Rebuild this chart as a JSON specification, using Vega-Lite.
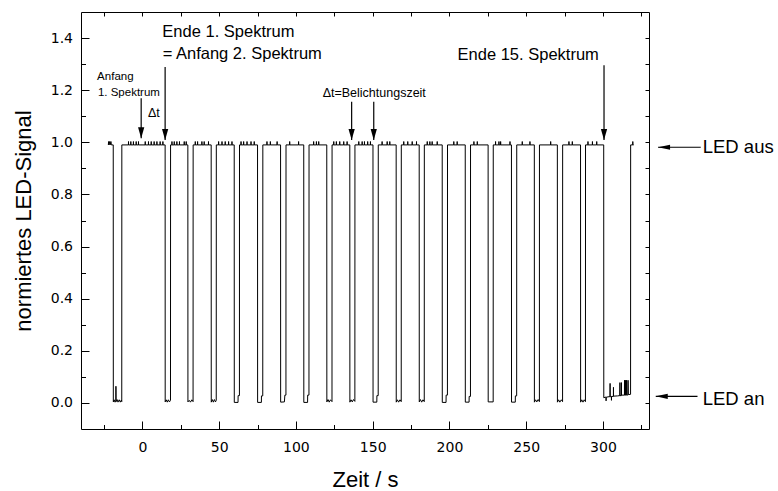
{
"$schema": "https://vega.github.io/schema/vega-lite/v6.json",
"width": 568, "height": 417,
"autosize": "none",
"padding": {"left": 81, "top": 12, "right": 129, "bottom": 62},
"background": "white",
"config": {
  "view": {"stroke": "black", "strokeWidth": 1},
  "axis": {"domain": false, "grid": false, "tickColor": "black", "tickWidth": 1, "labelColor": "black", "titleColor": "black", "labelFont": "DejaVu Sans", "titleFont": "Liberation Sans", "titleFontWeight": "normal"},
  "text": {"font": "Liberation Sans", "color": "black"}
},
"datasets": {
  "signal": [
{"t":-22.2,"v":0.99},{"t":-22.0,"v":1.003},{"t":-21.8,"v":0.99},{"t":-21.3,"v":1.003},{"t":-21.0,"v":0.99},{"t":-20.5,"v":1.003},{"t":-20.2,"v":0.99},{"t":-19.0,"v":0.99},
{"t":-18.95,"v":0.004},{"t":-18.4,"v":0.012},{"t":-17.9,"v":0.003},{"t":-17.3,"v":0.006},{"t":-17.25,"v":0.064},{"t":-17.15,"v":0.005},{"t":-16.5,"v":0.013},{"t":-15.9,"v":0.003},{"t":-15.1,"v":0.012},{"t":-14.4,"v":0.003},{"t":-13.7,"v":0.011},{"t":-13.45,"v":0.005},
{"t":-13.4,"v":0.99},
{"t":-9.1,"v":0.99},{"t":-9.05,"v":1.003},{"t":-9.0,"v":0.99},
{"t":-7.6,"v":0.99},{"t":-7.55,"v":1.003},{"t":-7.5,"v":0.99},
{"t":-5.9,"v":0.99},{"t":-5.85,"v":1.003},{"t":-5.8,"v":0.99},
{"t":-4.1,"v":0.99},{"t":-4.05,"v":1.003},{"t":-4.0,"v":0.99},
{"t":-2.6,"v":0.99},{"t":-2.55,"v":1.003},{"t":-2.5,"v":0.99},
{"t":1.8,"v":0.99},{"t":1.85,"v":1.003},{"t":1.9,"v":0.99},
{"t":3.9,"v":0.99},{"t":3.95,"v":1.003},{"t":4.0,"v":0.99},
{"t":5.7,"v":0.99},{"t":5.75,"v":1.003},{"t":5.8,"v":0.99},
{"t":7.6,"v":0.99},{"t":7.65,"v":1.003},{"t":7.7,"v":0.99},
{"t":9.4,"v":0.99},{"t":9.45,"v":1.003},{"t":9.5,"v":0.99},
{"t":11.5,"v":0.99},{"t":11.55,"v":1.003},{"t":11.6,"v":0.99},
{"t":13.3,"v":0.99},{"t":13.35,"v":1.003},{"t":13.4,"v":0.99},
{"t":14.8,"v":0.99},{"t":14.85,"v":0.004},{"t":15.5,"v":0.012},{"t":16.2,"v":0.003},{"t":16.9,"v":0.012},{"t":17.6,"v":0.004},{"t":18.3,"v":0.01},{"t":18.35,"v":0.99},
{"t":19.2,"v":0.99},{"t":19.25,"v":1.003},{"t":19.3,"v":0.99},
{"t":20.7,"v":0.99},{"t":20.75,"v":1.003},{"t":20.8,"v":0.99},
{"t":22.4,"v":0.99},{"t":22.45,"v":1.003},{"t":22.5,"v":0.99},
{"t":24.1,"v":0.99},{"t":24.15,"v":1.003},{"t":24.2,"v":0.99},
{"t":27.2,"v":0.99},{"t":27.25,"v":1.003},{"t":27.3,"v":0.99},
{"t":28.5,"v":0.99},{"t":28.55,"v":1.003},{"t":28.6,"v":0.99},
{"t":29.6,"v":0.99},{"t":29.65,"v":0.004},{"t":30.5,"v":0.01},{"t":31.3,"v":0.003},{"t":32.2,"v":0.012},{"t":33.0,"v":0.005},{"t":33.05,"v":0.99},
{"t":34.4,"v":0.99},{"t":34.45,"v":1.003},{"t":34.5,"v":0.99},
{"t":35.9,"v":0.99},{"t":35.95,"v":1.003},{"t":36.0,"v":0.99},
{"t":38.7,"v":0.99},{"t":38.75,"v":1.003},{"t":38.8,"v":0.99},
{"t":40.2,"v":0.99},{"t":40.25,"v":1.003},{"t":40.3,"v":0.99},
{"t":43.0,"v":0.99},{"t":43.05,"v":1.003},{"t":43.1,"v":0.99},
{"t":44.8,"v":0.99},{"t":44.85,"v":0.003},{"t":45.5,"v":0.013},{"t":46.2,"v":0.003},{"t":46.9,"v":0.013},{"t":47.6,"v":0.004},{"t":48.1,"v":0.01},{"t":48.15,"v":0.99},
{"t":49.6,"v":0.99},{"t":49.65,"v":1.003},{"t":49.7,"v":0.99},
{"t":51.8,"v":0.99},{"t":51.85,"v":1.003},{"t":51.9,"v":0.99},
{"t":53.9,"v":0.99},{"t":53.95,"v":1.003},{"t":54.0,"v":0.99},
{"t":56.1,"v":0.99},{"t":56.15,"v":1.003},{"t":56.2,"v":0.99},
{"t":58.3,"v":0.99},{"t":58.35,"v":1.003},{"t":58.4,"v":0.99},
{"t":59.8,"v":0.99},{"t":59.85,"v":0.002},{"t":62.3,"v":0.002},{"t":62.35,"v":0.028},{"t":63.2,"v":0.028},{"t":63.25,"v":0.99},
{"t":64.2,"v":0.99},{"t":64.25,"v":1.003},{"t":64.3,"v":0.99},
{"t":65.9,"v":0.99},{"t":65.95,"v":1.003},{"t":66.0,"v":0.99},
{"t":68.1,"v":0.99},{"t":68.15,"v":1.003},{"t":68.2,"v":0.99},
{"t":70.7,"v":0.99},{"t":70.75,"v":1.003},{"t":70.8,"v":0.99},
{"t":72.8,"v":0.99},{"t":72.85,"v":1.003},{"t":72.9,"v":0.99},
{"t":75.0,"v":0.99},{"t":75.05,"v":0.002},{"t":77.5,"v":0.002},{"t":77.55,"v":0.027},{"t":78.4,"v":0.027},{"t":78.45,"v":0.99},
{"t":81.1,"v":0.99},{"t":81.15,"v":1.003},{"t":81.2,"v":0.99},
{"t":83.3,"v":0.99},{"t":83.35,"v":1.003},{"t":83.4,"v":0.99},
{"t":87.7,"v":0.99},{"t":87.75,"v":1.003},{"t":87.8,"v":0.99},
{"t":90.0,"v":0.99},{"t":90.05,"v":0.003},{"t":92.5,"v":0.004},{"t":92.8,"v":0.03},{"t":93.5,"v":0.03},{"t":93.55,"v":0.99},
{"t":95.9,"v":0.99},{"t":95.95,"v":1.003},{"t":96.0,"v":0.99},
{"t":101.7,"v":0.99},{"t":101.75,"v":1.003},{"t":101.8,"v":0.99},
{"t":105.1,"v":0.99},{"t":105.15,"v":0.002},{"t":107.6,"v":0.002},{"t":107.65,"v":0.03},{"t":108.5,"v":0.03},{"t":108.55,"v":0.99},
{"t":111.5,"v":0.99},{"t":111.55,"v":1.003},{"t":111.6,"v":0.99},
{"t":113.3,"v":0.99},{"t":113.35,"v":1.003},{"t":113.4,"v":0.99},
{"t":114.8,"v":0.99},{"t":114.85,"v":1.003},{"t":114.9,"v":0.99},
{"t":120.1,"v":0.99},{"t":120.15,"v":0.004},{"t":120.9,"v":0.013},{"t":121.7,"v":0.003},{"t":122.5,"v":0.012},{"t":123.5,"v":0.005},{"t":123.55,"v":0.99},
{"t":124.6,"v":0.99},{"t":124.65,"v":1.003},{"t":124.7,"v":0.99},
{"t":126.3,"v":0.99},{"t":126.35,"v":1.003},{"t":126.4,"v":0.99},
{"t":128.5,"v":0.99},{"t":128.55,"v":1.003},{"t":128.6,"v":0.99},
{"t":131.1,"v":0.99},{"t":131.15,"v":1.003},{"t":131.2,"v":0.99},
{"t":133.3,"v":0.99},{"t":133.35,"v":1.003},{"t":133.4,"v":0.99},
{"t":135.1,"v":0.99},{"t":135.15,"v":0.003},{"t":135.9,"v":0.012},{"t":136.7,"v":0.004},{"t":137.5,"v":0.013},{"t":138.4,"v":0.006},{"t":138.45,"v":0.99},
{"t":140.9,"v":0.99},{"t":140.95,"v":1.003},{"t":141.0,"v":0.99},
{"t":143.1,"v":0.99},{"t":143.15,"v":1.003},{"t":143.2,"v":0.99},
{"t":144.6,"v":0.99},{"t":144.65,"v":1.003},{"t":144.7,"v":0.99},
{"t":146.7,"v":0.99},{"t":146.75,"v":1.003},{"t":146.8,"v":0.99},
{"t":148.5,"v":0.99},{"t":148.55,"v":1.003},{"t":148.6,"v":0.99},
{"t":150.2,"v":0.99},{"t":150.25,"v":0.003},{"t":152.7,"v":0.003},{"t":152.75,"v":0.028},{"t":153.6,"v":0.028},{"t":153.65,"v":0.99},
{"t":156.1,"v":0.99},{"t":156.15,"v":1.003},{"t":156.2,"v":0.99},
{"t":159.4,"v":0.99},{"t":159.45,"v":1.003},{"t":159.5,"v":0.99},
{"t":161.1,"v":0.99},{"t":161.15,"v":1.003},{"t":161.2,"v":0.99},
{"t":165.3,"v":0.99},{"t":165.35,"v":0.003},{"t":166.1,"v":0.012},{"t":166.9,"v":0.003},{"t":167.8,"v":0.012},{"t":168.6,"v":0.005},{"t":168.65,"v":0.99},
{"t":170.2,"v":0.99},{"t":170.25,"v":1.003},{"t":170.3,"v":0.99},
{"t":172.8,"v":0.99},{"t":172.85,"v":1.003},{"t":172.9,"v":0.99},
{"t":175.7,"v":0.99},{"t":175.75,"v":1.003},{"t":175.8,"v":0.99},
{"t":178.5,"v":0.99},{"t":178.55,"v":1.003},{"t":178.6,"v":0.99},
{"t":180.3,"v":0.99},{"t":180.35,"v":0.004},{"t":181.1,"v":0.013},{"t":181.9,"v":0.003},{"t":182.8,"v":0.012},{"t":183.6,"v":0.005},{"t":183.65,"v":0.99},
{"t":185.5,"v":0.99},{"t":185.55,"v":1.003},{"t":185.6,"v":0.99},
{"t":187.2,"v":0.99},{"t":187.25,"v":1.003},{"t":187.3,"v":0.99},
{"t":188.7,"v":0.99},{"t":188.75,"v":1.003},{"t":188.8,"v":0.99},
{"t":192.0,"v":0.99},{"t":192.05,"v":1.003},{"t":192.1,"v":0.99},
{"t":195.3,"v":0.99},{"t":195.35,"v":0.002},{"t":197.8,"v":0.002},{"t":197.85,"v":0.03},{"t":198.7,"v":0.03},{"t":198.75,"v":0.99},
{"t":202.8,"v":0.99},{"t":202.85,"v":1.003},{"t":202.9,"v":0.99},
{"t":205.0,"v":0.99},{"t":205.05,"v":1.003},{"t":205.1,"v":0.99},
{"t":210.3,"v":0.99},{"t":210.35,"v":0.003},{"t":212.8,"v":0.003},{"t":212.85,"v":0.025},{"t":213.7,"v":0.025},{"t":213.75,"v":0.99},
{"t":215.9,"v":0.99},{"t":215.95,"v":1.003},{"t":216.0,"v":0.99},
{"t":218.1,"v":0.99},{"t":218.15,"v":1.003},{"t":218.2,"v":0.99},
{"t":225.2,"v":0.99},{"t":225.25,"v":0.004},{"t":228.5,"v":0.004},{"t":228.55,"v":0.99},
{"t":230.0,"v":0.99},{"t":230.05,"v":1.003},{"t":230.1,"v":0.99},
{"t":232.2,"v":0.99},{"t":232.25,"v":1.003},{"t":232.3,"v":0.99},
{"t":233.3,"v":0.99},{"t":233.35,"v":1.003},{"t":233.4,"v":0.99},
{"t":239.4,"v":0.99},{"t":239.45,"v":1.003},{"t":239.5,"v":0.99},
{"t":240.4,"v":0.99},{"t":240.45,"v":0.003},{"t":242.9,"v":0.003},{"t":242.95,"v":0.027},{"t":243.8,"v":0.027},{"t":243.85,"v":0.99},
{"t":247.4,"v":0.99},{"t":247.45,"v":1.003},{"t":247.5,"v":0.99},
{"t":252.4,"v":0.99},{"t":252.45,"v":1.003},{"t":252.5,"v":0.99},
{"t":255.3,"v":0.99},{"t":255.35,"v":0.003},{"t":256.1,"v":0.012},{"t":256.9,"v":0.004},{"t":257.8,"v":0.013},{"t":258.6,"v":0.005},{"t":258.65,"v":0.99},
{"t":265.9,"v":0.99},{"t":265.95,"v":1.003},{"t":266.0,"v":0.99},
{"t":270.3,"v":0.99},{"t":270.35,"v":0.003},{"t":271.1,"v":0.012},{"t":271.9,"v":0.003},{"t":272.9,"v":0.012},{"t":273.7,"v":0.005},{"t":273.75,"v":0.99},
{"t":277.8,"v":0.99},{"t":277.85,"v":1.003},{"t":277.9,"v":0.99},
{"t":280.0,"v":0.99},{"t":280.05,"v":1.003},{"t":280.1,"v":0.99},
{"t":285.4,"v":0.99},{"t":285.45,"v":0.003},{"t":286.2,"v":0.012},{"t":287.0,"v":0.003},{"t":287.8,"v":0.012},{"t":288.6,"v":0.005},{"t":288.65,"v":0.99},
{"t":290.2,"v":0.99},{"t":290.25,"v":1.003},{"t":290.3,"v":0.99},
{"t":293.1,"v":0.99},{"t":293.15,"v":1.003},{"t":293.2,"v":0.99},
{"t":295.9,"v":0.99},{"t":295.95,"v":1.003},{"t":296.0,"v":0.99},
{"t":300.5,"v":0.99},{"t":300.55,"v":0.02},{"t":301.5,"v":0.022},{"t":302.0,"v":0.022},{"t":302.05,"v":0.008},{"t":302.1,"v":0.022},{"t":304.0,"v":0.024},{"t":304.6,"v":0.024},{"t":304.65,"v":0.075},{"t":304.7,"v":0.024},{"t":305.5,"v":0.024},{"t":305.55,"v":0.01},{"t":305.6,"v":0.025},{"t":306.8,"v":0.025},{"t":306.85,"v":0.06},{"t":306.9,"v":0.026},{"t":309.5,"v":0.027},{"t":311.0,"v":0.028},{"t":311.05,"v":0.078},{"t":311.1,"v":0.028},{"t":312.0,"v":0.028},{"t":312.05,"v":0.078},{"t":312.1,"v":0.03},{"t":314.0,"v":0.03},{"t":314.05,"v":0.087},{"t":314.2,"v":0.03},{"t":314.6,"v":0.03},{"t":314.65,"v":0.087},{"t":314.8,"v":0.03},{"t":315.3,"v":0.03},{"t":315.35,"v":0.087},{"t":315.6,"v":0.03},{"t":316.3,"v":0.031},{"t":316.35,"v":0.087},{"t":316.5,"v":0.032},{"t":318.0,"v":0.033},{"t":318.05,"v":0.99},{"t":319.4,"v":0.99},{"t":319.45,"v":1.003},{"t":319.5,"v":0.99},{"t":320.0,"v":0.99}
  ],
  "arrows": [
    {"x": -0.8, "y": 1.169, "x2": -0.8, "y2": 1.016},
    {"x": 14.8, "y": 1.289, "x2": 14.8, "y2": 1.009},
    {"x": 136.3, "y": 1.156, "x2": 136.3, "y2": 1.009},
    {"x": 150.7, "y": 1.156, "x2": 150.7, "y2": 1.009},
    {"x": 300.7, "y": 1.296, "x2": 300.7, "y2": 1.009},
    {"x": 363.7, "y": 0.981, "x2": 335.9, "y2": 0.981},
    {"x": 361.6, "y": 0.0253, "x2": 334.4, "y2": 0.0253}
  ],
  "heads": [
    {"x": -0.8, "y": 1.016, "dir": "down"},
    {"x": 14.8, "y": 1.009, "dir": "down"},
    {"x": 136.3, "y": 1.009, "dir": "down"},
    {"x": 150.7, "y": 1.009, "dir": "down"},
    {"x": 300.7, "y": 1.009, "dir": "down"},
    {"x": 335.9, "y": 0.981, "dir": "left"},
    {"x": 334.4, "y": 0.0253, "dir": "left"}
  ],
  "labelsL": [
    {"x": 13.0, "y": 1.4046, "label": "Ende 1. Spektrum"},
    {"x": 13.2, "y": 1.318, "label": "= Anfang 2. Spektrum"},
    {"x": 205.3, "y": 1.315, "label": "Ende 15. Spektrum"}
  ],
  "labelsS": [
    {"x": -29.5, "y": 1.2387, "label": "Anfang"},
    {"x": -29.0, "y": 1.179, "label": "1. Spektrum"}
  ],
  "labelsD": [
    {"x": 3.6, "y": 1.0958, "label": "Δt"},
    {"x": 117.4, "y": 1.1747, "label": "Δt=Belichtungszeit"}
  ],
  "labelsLED": [
    {"x": 365.0, "y": 0.958, "label": "LED aus"},
    {"x": 365.0, "y": -0.0065, "label": "LED an"}
  ]
},
"layer": [
  {
    "data": {"name": "signal"},
    "mark": {"type": "line", "color": "black", "strokeWidth": 1, "interpolate": "linear"},
    "encoding": {
      "x": {"field": "t", "type": "quantitative", "scale": {"domain": [-40, 330], "nice": false, "zero": false},
            "axis": {"orient": "bottom", "ticks": false, "values": [0,50,100,150,200,250,300], "format": "d", "labelFontSize": 14, "labelPadding": 11, "title": "Zeit / s", "titleFontSize": 22, "titlePadding": 15}},
      "y": {"field": "v", "type": "quantitative", "scale": {"domain": [-0.1, 1.5], "nice": false, "zero": false},
            "axis": {"orient": "left", "ticks": false, "values": [0,0.2,0.4,0.6,0.8,1.0,1.2,1.4], "format": ".1f", "labelFontSize": 14, "labelPadding": 8.5, "title": "normiertes LED-Signal", "titleFontSize": 22, "titlePadding": 15}},
      "order": {"value": null}
    }
  },
  {
    "data": {"name": "arrows"},
    "mark": {"type": "rule", "color": "black", "strokeWidth": 1.2},
    "encoding": {
      "x": {"field": "x", "type": "quantitative", "scale": {"domain": [-40, 330], "nice": false, "zero": false},
            "axis": {"orient": "bottom", "values": [0,50,100,150,200,250,300], "labels": false, "tickSize": -8, "title": null}},
      "x2": {"field": "x2"},
      "y": {"field": "y", "type": "quantitative", "scale": {"domain": [-0.1, 1.5], "nice": false, "zero": false},
            "axis": {"orient": "left", "values": [0,0.2,0.4,0.6,0.8,1.0,1.2,1.4], "labels": false, "tickSize": -8, "title": null}},
      "y2": {"field": "y2"}
    }
  },
  {
    "data": {"name": "heads"},
    "mark": {"type": "point", "filled": true, "color": "black", "size": 36, "opacity": 1, "strokeWidth": 0},
    "encoding": {
      "x": {"field": "x", "type": "quantitative", "scale": {"domain": [-40, 330], "nice": false, "zero": false},
            "axis": {"orient": "bottom", "values": [-25,25,75,125,175,225,275,325], "labels": false, "tickSize": -4.5, "title": null}},
      "y": {"field": "y", "type": "quantitative", "scale": {"domain": [-0.1, 1.5], "nice": false, "zero": false},
            "axis": {"orient": "left", "values": [0.1,0.3,0.5,0.7,0.9,1.1,1.3], "labels": false, "tickSize": -4.5, "title": null}},
      "shape": {"field": "dir", "type": "nominal", "scale": {"domain": ["down", "left"], "range": ["M0,0L-1.04,-3.65L1.04,-3.65Z", "M0,0L4,-0.86L4,0.86Z"]}, "legend": null}
    }
  },
  {
    "data": {"name": "labelsL"},
    "mark": {"type": "text", "align": "left", "baseline": "alphabetic", "fontSize": 16.5},
    "encoding": {
      "x": {"field": "x", "type": "quantitative", "scale": {"domain": [-40, 330], "nice": false, "zero": false},
            "axis": {"orient": "top", "values": [-25,0,25,50,75,100,125,150,175,200,225,250,275,300,325], "labels": false, "tickSize": -4, "title": null}},
      "y": {"field": "y", "type": "quantitative", "scale": {"domain": [-0.1, 1.5], "nice": false, "zero": false},
            "axis": {"orient": "right", "values": [0,0.1,0.2,0.3,0.4,0.5,0.6,0.7,0.8,0.9,1.0,1.1,1.2,1.3,1.4], "labels": false, "tickSize": -4, "title": null}},
      "text": {"field": "label"}
    }
  },
  {
    "data": {"name": "labelsS"},
    "mark": {"type": "text", "align": "left", "baseline": "alphabetic", "fontSize": 11.5},
    "encoding": {
      "x": {"field": "x", "type": "quantitative", "scale": {"domain": [-40, 330], "nice": false, "zero": false}, "axis": null},
      "y": {"field": "y", "type": "quantitative", "scale": {"domain": [-0.1, 1.5], "nice": false, "zero": false}, "axis": null},
      "text": {"field": "label"}
    }
  },
  {
    "data": {"name": "labelsD"},
    "mark": {"type": "text", "align": "left", "baseline": "alphabetic", "fontSize": 12.5},
    "encoding": {
      "x": {"field": "x", "type": "quantitative", "scale": {"domain": [-40, 330], "nice": false, "zero": false}, "axis": null},
      "y": {"field": "y", "type": "quantitative", "scale": {"domain": [-0.1, 1.5], "nice": false, "zero": false}, "axis": null},
      "text": {"field": "label"}
    }
  },
  {
    "data": {"name": "labelsLED"},
    "mark": {"type": "text", "align": "left", "baseline": "alphabetic", "fontSize": 18.5},
    "encoding": {
      "x": {"field": "x", "type": "quantitative", "scale": {"domain": [-40, 330], "nice": false, "zero": false}, "axis": null},
      "y": {"field": "y", "type": "quantitative", "scale": {"domain": [-0.1, 1.5], "nice": false, "zero": false}, "axis": null},
      "text": {"field": "label"}
    }
  }
],
"resolve": {"axis": {"x": "independent", "y": "independent"}}
}
